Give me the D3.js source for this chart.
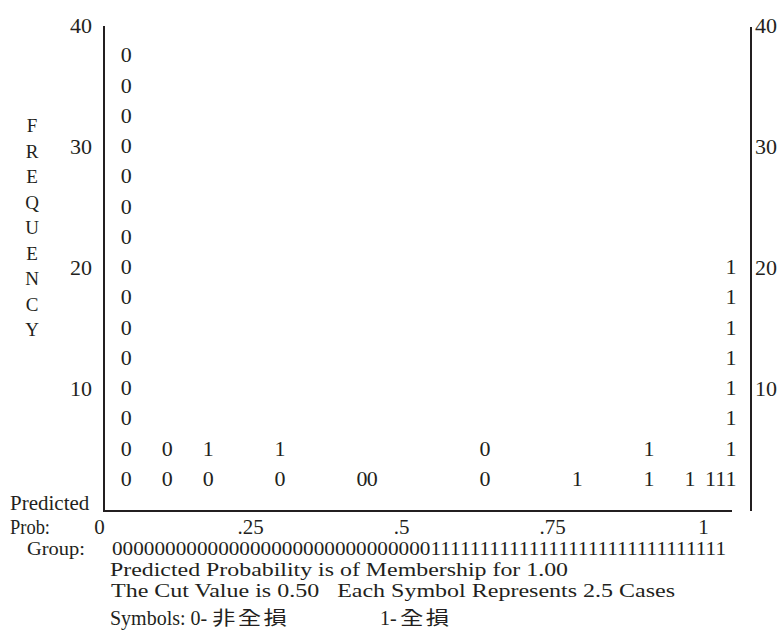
<!DOCTYPE html>
<html><head><meta charset="utf-8">
<script src="https://cdn.jsdelivr.net/npm/d3@7"></script>
<style>
body{margin:0;background:#fff}
svg text{font-family:"Liberation Serif","Times New Roman",serif;fill:#231f20}
</style></head><body>
<svg id="c" width="781" height="632"></svg>
<script>
// ---------------- DATA ----------------
const nBins = 60;                         // columns of the classification plot
const binIndex = [0, 4, 8, 15, 23, 24, 35, 44, 51, 55, 57, 58, 59];
const binSymbols = ["000000000000000", "00", "01", "01", "0", "0", "00", "1", "11", "1", "1", "1", "11111111"]; // bottom-up
const casesPerSymbol = 2.5;
const freqTicks = [10, 20, 30, 40];
const probTickValues = [0, 0.25, 0.5, 0.75, 1];
const probTickLabels = ["0", ".25", ".5", ".75", "1"];
const groupRow = "000000000000000000000000000000111111111111111111111111111111";
const yTitle = ["F","R","E","Q","U","E","N","C","Y"];
const noteLines = [
  "Predicted Probability is of Membership for 1.00",
  "The Cut Value is 0.50   Each Symbol Represents 2.5 Cases"
];
const legendItems = [{sym:"0", label:"非全損"}, {sym:"1", label:"全損"}];

// ---------------- LAYOUT ----------------
const svg = d3.select("#c");
const ink = "#231f20";
const yScale = d3.scaleLinear([0, 40], [511, 27]);
const xBand = d3.scaleBand(d3.range(nBins), [121, 736]);
const xProb = d3.scaleLinear([0, 1], [99, 703]);
const leftX = 104, rightX = 751, bottomEnd = 732;
const cjk = '"Noto Sans CJK TC","Noto Sans CJK SC",sans-serif';

// frame lines
svg.append("line").attr("x1", leftX).attr("x2", leftX)
  .attr("y1", yScale(40) - 1).attr("y2", yScale(0) + 1)
  .attr("stroke", ink).attr("stroke-width", 2);
svg.append("line").attr("x1", leftX).attr("x2", bottomEnd)
  .attr("y1", yScale(0)).attr("y2", yScale(0))
  .attr("stroke", ink).attr("stroke-width", 2);
svg.append("line").attr("x1", rightX).attr("x2", rightX)
  .attr("y1", yScale(40)).attr("y2", yScale(0))
  .attr("stroke", ink).attr("stroke-width", 2);

// left / right frequency axes
const gl = svg.append("g").attr("transform", `translate(${leftX},0)`)
  .call(d3.axisLeft(yScale).tickValues(freqTicks).tickSize(0).tickPadding(12));
const gr = svg.append("g").attr("transform", `translate(${rightX},0)`)
  .call(d3.axisRight(yScale).tickValues(freqTicks).tickSize(0).tickPadding(4));
[gl, gr].forEach(g => {
  g.select(".domain").remove();
  g.selectAll("text").attr("dy", "0.25em").attr("fill", ink)
    .style("font-size", "22px").style("font-family", '"Liberation Serif",serif');
});

// probability axis labels
const gb = svg.append("g").attr("transform", `translate(0,${yScale(0)})`)
  .call(d3.axisBottom(xProb).tickValues(probTickValues)
    .tickFormat((d, i) => probTickLabels[i]).tickSize(0).tickPadding(8));
gb.select(".domain").remove();
gb.selectAll("text").attr("fill", ink)
  .style("font-size", "21px").style("font-family", '"Liberation Serif",serif');

// y title
svg.append("g").selectAll("text").data(yTitle).join("text")
  .attr("x", 32).attr("y", (d, i) => 132 + i * 25.5)
  .attr("text-anchor", "middle").style("font-size", "19px").text(d => d);

// symbols
const cells = [];
binIndex.forEach((b, j) => {
  binSymbols[j].split("").forEach((s, k) => cells.push({bin: b, level: (k + 1) * casesPerSymbol, s}));
});
svg.append("g").selectAll("text").data(cells).join("text")
  .attr("x", d => xBand(d.bin) + xBand.bandwidth() / 2)
  .attr("y", d => yScale(d.level) + 5)
  .attr("text-anchor", "middle").style("font-size", "22px")
  .text(d => d.s);

// row labels
svg.append("text").attr("x", 10).attr("y", 510).style("font-size", "21px").text("Predicted");
svg.append("text").attr("x", 10).attr("y", 534).style("font-size", "20px")
  .attr("textLength", 40).attr("lengthAdjust", "spacingAndGlyphs").text("Prob:");
svg.append("text").attr("x", 27).attr("y", 555).style("font-size", "19px")
  .attr("textLength", 58).attr("lengthAdjust", "spacingAndGlyphs").text("Group:");

// group row
svg.append("text").attr("x", 112).attr("y", 555).style("font-size", "19px")
  .attr("textLength", 614).attr("lengthAdjust", "spacingAndGlyphs").text(groupRow);

// notes
svg.append("text").attr("x", 110).attr("y", 576).style("font-size", "19px")
  .attr("textLength", 458).attr("lengthAdjust", "spacingAndGlyphs").text(noteLines[0]);
svg.append("text").attr("x", 111).attr("y", 597).style("font-size", "19px").style("white-space", "pre")
  .attr("textLength", 564).attr("lengthAdjust", "spacingAndGlyphs").text(noteLines[1]);

// legend
const legY = 625;
svg.append("text").attr("x", 110).attr("y", legY).style("font-size", "20px")
  .style("white-space", "pre").text("Symbols: " + legendItems[0].sym + "-");
svg.append("text").attr("transform", `translate(212,${legY}) scale(1.2,1)`)
  .style("font-family", cjk).style("font-size", "19.5px").style("letter-spacing", "2px")
  .text(legendItems[0].label);
svg.append("text").attr("x", 380).attr("y", legY).style("font-size", "20px")
  .text(legendItems[1].sym + "-");
svg.append("text").attr("transform", `translate(400,${legY}) scale(1.2,1)`)
  .style("font-family", cjk).style("font-size", "19.5px").style("letter-spacing", "2px")
  .text(legendItems[1].label);
</script>
</body></html>
